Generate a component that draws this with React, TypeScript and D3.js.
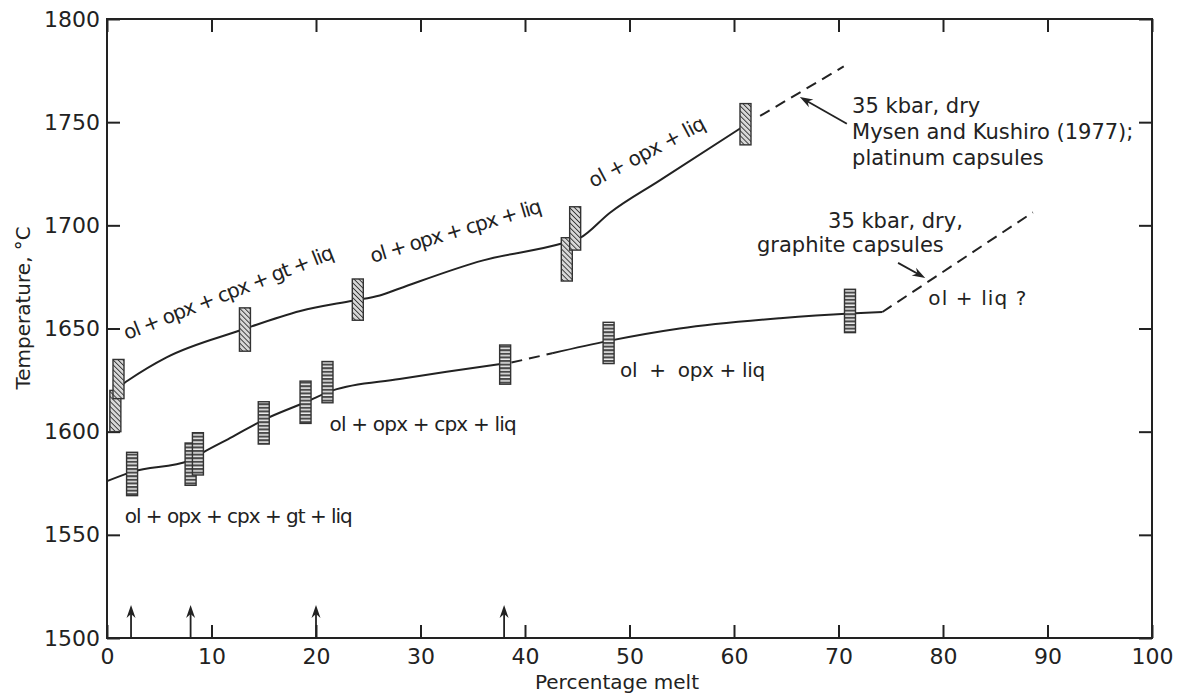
import React, { useEffect, useRef } from "react";
import * as d3 from "d3";

const xTickValues = [0, 10, 20, 30, 40, 50, 60, 70, 80, 90, 100];
const yTickValues = [1500, 1550, 1600, 1650, 1700, 1750, 1800];

// 35 kbar, platinum capsules (Mysen and Kushiro 1977) - bracket boxes
const platinumMelt = [0.8, 1.1, 13.2, 24.0, 44.0, 44.8, 61.1];
const platinumLow = [1600, 1616, 1639, 1654, 1673, 1688, 1739];
const platinumHigh = [1620, 1635, 1660, 1674, 1694, 1709, 1759];

// 35 kbar, graphite capsules - bracket boxes
const graphiteMelt = [2.4, 8.0, 8.7, 15.0, 19.0, 21.1, 38.1, 48.0, 71.1];
const graphiteLow = [1569, 1574, 1579, 1594, 1604, 1614, 1623, 1633, 1648];
const graphiteHigh = [1590, 1594.5, 1599.5, 1614.5, 1624.5, 1634, 1642, 1653, 1669];

// solidus / phase curves, [melt %, temperature]
const upperSolid: [number, number][] = [
  [1.2, 1622], [2.0, 1624.8], [5.7, 1636], [12.7, 1649], [18.5, 1658.5],
  [23.5, 1663.5], [26.1, 1666], [28, 1669.4], [36, 1683], [43.6, 1691.3],
  [45.3, 1694], [48.1, 1706], [52.9, 1721.8], [60.6, 1747],
];
const upperDashed: [number, number][] = [[62.5, 1753], [70.5, 1777]];

const lowerSolidA: [number, number][] = [
  [0, 1576], [2.4, 1580.5], [7.9, 1586], [9.2, 1590], [12, 1597.5],
  [14.9, 1605.5], [19.1, 1614.5], [21.6, 1620], [28, 1625.5], [32.5, 1629], [38, 1633],
];
const lowerDashedA: [number, number][] = [[38.7, 1633.5], [42.6, 1638]];
const lowerSolidB: [number, number][] = [
  [42.6, 1638], [48, 1644], [54.8, 1650], [64.4, 1655], [71.1, 1657.3], [74.2, 1658],
];
const lowerDashedB: [number, number][] = [[74.2, 1658], [88.6, 1706.3]];

// experiments marked by arrows on the melt axis
const arrowMelt = [2.3, 8, 20, 38];

const phaseLabels = [
  { text: "ol + opx + cpx + gt + liq", x: 1.9, y: 1644.4, angle: -21.5, len: 224 },
  { text: "ol + opx + cpx + liq", x: 25.4, y: 1681.8, angle: -16.6, len: 178 },
  { text: "ol + opx + liq", x: 46.5, y: 1718.1, angle: -27.8, len: 129 },
  { text: "ol + opx + cpx + liq", x: 21.3, y: 1600.3, angle: 0, len: 187 },
  { text: "ol + opx + cpx + gt + liq", x: 1.7, y: 1555.7, angle: 0, len: 228 },
  { text: "ol  +  opx + liq", x: 49.1, y: 1626.5, angle: 0, len: 145 },
  { text: "ol + liq ?", x: 78.6, y: 1661.4, angle: 0, len: 98 },
];

const noteLabels = [
  { text: "35 kbar, dry", x: 71.3, y: 1754.5 },
  { text: "Mysen and Kushiro (1977);", x: 71.3, y: 1741.9 },
  { text: "platinum capsules", x: 71.3, y: 1729.3 },
  { text: "35 kbar, dry,", x: 69.0, y: 1698.7 },
  { text: "graphite capsules", x: 62.2, y: 1687.1 },
];

const noteArrows: [number, number, number, number][] = [
  [70.8, 1749.2, 66.3, 1762.2],
  [75.7, 1681.8, 78.3, 1674.5],
];

export default function App() {
  const svgRef = useRef<SVGSVGElement>(null);
  const width = 1182;
  const height = 700;
  const font = "'DejaVu Sans', sans-serif";

  useEffect(() => {
    const svg = d3.select(svgRef.current);
    svg.selectAll("*").remove();

    const x = d3.scaleLinear().domain([0, 100]).range([107, 1152]);
    const y = d3.scaleLinear().domain([1500, 1800]).range([638, 19]);

    const defs = svg.append("defs");
    defs.append("pattern")
      .attr("id", "diag")
      .attr("patternUnits", "userSpaceOnUse")
      .attr("width", 3.5)
      .attr("height", 3.5)
      .attr("patternTransform", "rotate(-45)")
      .call(p => p.append("rect").attr("width", 3.5).attr("height", 3.5).attr("fill", "#d8d8d8"))
      .append("line")
      .attr("x1", 0).attr("y1", 0).attr("x2", 0).attr("y2", 3.5)
      .attr("stroke", "#333").attr("stroke-width", 1.8);
    defs.append("pattern")
      .attr("id", "horiz")
      .attr("patternUnits", "userSpaceOnUse")
      .attr("width", 4)
      .attr("height", 3.6)
      .call(p => p.append("rect").attr("width", 4).attr("height", 3.6).attr("fill", "#eeeeee"))
      .append("rect")
      .attr("width", 4).attr("height", 2.1)
      .attr("fill", "#4a4a4a");

    // frame
    svg.append("rect")
      .attr("x", x(0)).attr("y", y(1800))
      .attr("width", x(100) - x(0)).attr("height", y(1500) - y(1800))
      .attr("fill", "none").attr("stroke", "#222").attr("stroke-width", 2);

    const styleAxis = (g: any) => {
      g.select(".domain").remove();
      g.selectAll(".tick line").attr("stroke", "#222").attr("stroke-width", 2);
      g.selectAll(".tick text")
        .attr("fill", "#222")
        .attr("font-family", font)
        .attr("font-size", 22);
    };

    svg.append("g")
      .attr("transform", `translate(0,${y(1500)})`)
      .call(d3.axisBottom(x).tickValues(xTickValues).tickSize(-13).tickPadding(10))
      .call(styleAxis);
    svg.append("g")
      .attr("transform", `translate(${x(0)},0)`)
      .call(d3.axisLeft(y).tickValues(yTickValues).tickSize(-13).tickPadding(7).tickFormat(d3.format("d")))
      .call(styleAxis);
    svg.append("g")
      .attr("transform", `translate(0,${y(1800)})`)
      .call(d3.axisTop(x).tickValues(xTickValues).tickSize(-13).tickFormat(() => ""))
      .call(styleAxis);
    svg.append("g")
      .attr("transform", `translate(${x(100)},0)`)
      .call(d3.axisRight(y).tickValues(yTickValues).tickSize(-13).tickFormat(() => ""))
      .call(styleAxis);

    // axis titles
    svg.append("text")
      .attr("x", 617)
      .attr("y", 689)
      .attr("text-anchor", "middle")
      .attr("font-family", font)
      .attr("font-size", 20)
      .attr("fill", "#222")
      .text("Percentage melt");
    svg.append("text")
      .attr("transform", `translate(30,${y(1660)}) rotate(-90)`)
      .attr("text-anchor", "middle")
      .attr("font-family", font)
      .attr("font-size", 20)
      .attr("fill", "#222")
      .text("Temperature, °C");

    const line = d3.line<[number, number]>()
      .x(d => x(d[0]))
      .y(d => y(d[1]))
      .curve(d3.curveMonotoneX);

    const curves = svg.append("g").attr("fill", "none").attr("stroke", "#222").attr("stroke-width", 2);
    [upperSolid, lowerSolidA, lowerSolidB].forEach(c => curves.append("path").attr("d", line(c)));
    [upperDashed, lowerDashedA, lowerDashedB].forEach(c =>
      curves.append("path").attr("d", line(c)).attr("stroke-dasharray", "11,7"));

    // bracket boxes
    const boxW = 11;
    svg.append("g")
      .selectAll("rect")
      .data(platinumMelt.map((m, i) => [m, platinumLow[i], platinumHigh[i]]))
      .join("rect")
      .attr("x", d => x(d[0]) - boxW / 2)
      .attr("y", d => y(d[2]))
      .attr("width", boxW)
      .attr("height", d => y(d[1]) - y(d[2]))
      .attr("fill", "url(#diag)")
      .attr("stroke", "#333")
      .attr("stroke-width", 1.4);
    svg.append("g")
      .selectAll("rect")
      .data(graphiteMelt.map((m, i) => [m, graphiteLow[i], graphiteHigh[i]]))
      .join("rect")
      .attr("x", d => x(d[0]) - boxW / 2)
      .attr("y", d => y(d[2]))
      .attr("width", boxW)
      .attr("height", d => y(d[1]) - y(d[2]))
      .attr("fill", "url(#horiz)")
      .attr("stroke", "#333")
      .attr("stroke-width", 1.4);

    // arrow with a drawn head (length 13, half-width 4.5)
    const arrow = (g: any, x1: number, y1: number, x2: number, y2: number) => {
      const a = Math.atan2(y2 - y1, x2 - x1);
      const len = 13, hw = 4.5;
      const bx = x2 - len * Math.cos(a), by = y2 - len * Math.sin(a);
      g.append("line")
        .attr("x1", x1).attr("y1", y1)
        .attr("x2", x2 - 6 * Math.cos(a)).attr("y2", y2 - 6 * Math.sin(a))
        .attr("stroke", "#222").attr("stroke-width", 1.8);
      g.append("path")
        .attr("d", `M${x2},${y2}L${bx - hw * Math.sin(a)},${by + hw * Math.cos(a)}` +
          `L${x2 - 9 * Math.cos(a)},${y2 - 9 * Math.sin(a)}` +
          `L${bx + hw * Math.sin(a)},${by - hw * Math.cos(a)}Z`)
        .attr("fill", "#222");
    };

    const arrows = svg.append("g");
    arrowMelt.forEach(m => arrow(arrows, x(m), y(1500), x(m), y(1516)));
    noteArrows.forEach(d => arrow(arrows, x(d[0]), y(d[1]), x(d[2]), y(d[3])));

    // phase labels
    svg.append("g")
      .selectAll("text")
      .data(phaseLabels)
      .join("text")
      .attr("transform", d => `translate(${x(d.x)},${y(d.y)}) rotate(${d.angle})`)
      .attr("font-family", font)
      .attr("font-size", 20)
      .attr("fill", "#222")
      .attr("textLength", d => d.len)
      .attr("lengthAdjust", "spacing")
      .style("white-space", "pre")
      .text(d => d.text);

    svg.append("g")
      .selectAll("text")
      .data(noteLabels)
      .join("text")
      .attr("x", d => x(d.x))
      .attr("y", d => y(d.y))
      .attr("font-family", font)
      .attr("font-size", 21)
      .attr("fill", "#222")
      .text(d => d.text);
  }, []);

  return (
    <svg
      ref={svgRef}
      width={width}
      height={height}
      style={{ position: "absolute", left: 0, top: 0, background: "#fff" }}
    />
  );
}
